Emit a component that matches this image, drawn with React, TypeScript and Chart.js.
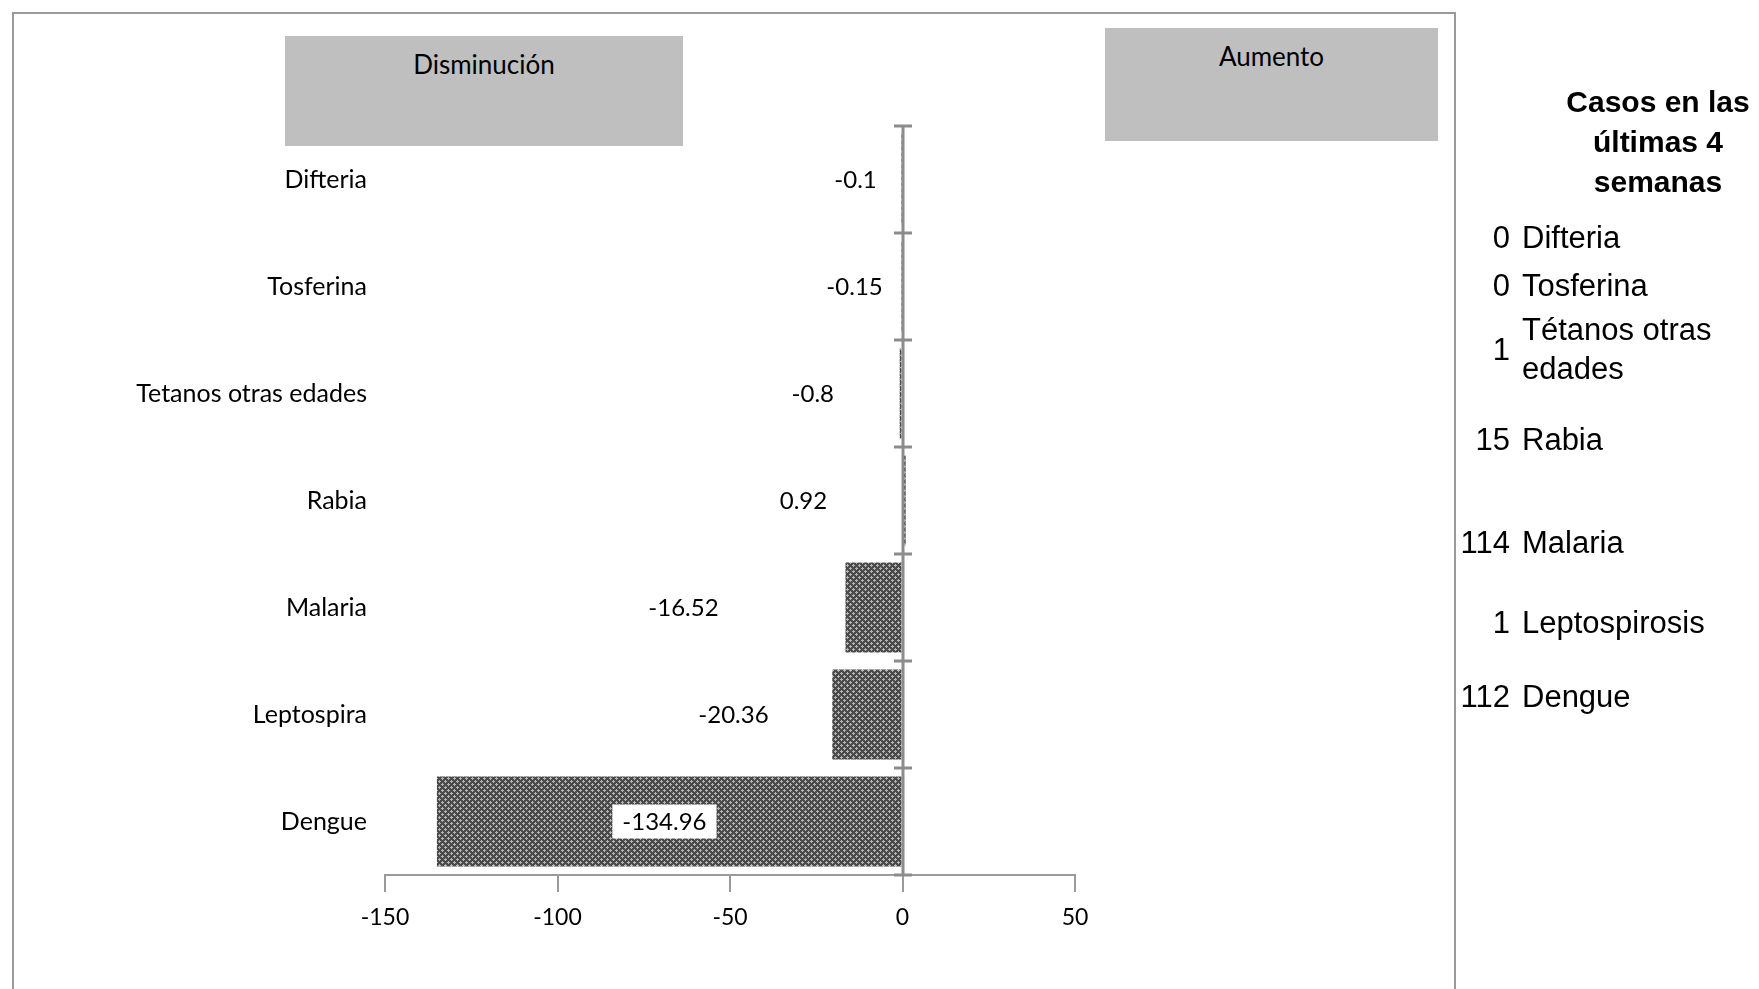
import React, { useEffect, useRef } from "react";
import { Chart, registerables } from "chart.js";

Chart.register(...registerables);

// ---- data ----
const categories = ["Difteria", "Tosferina", "Tetanos otras edades", "Rabia", "Malaria", "Leptospira", "Dengue"];
const changeValues = [-0.1, -0.15, -0.8, 0.92, -16.52, -20.36, -134.96];
const valueLabels = ["-0.1", "-0.15", "-0.8", "0.92", "-16.52", "-20.36", "-134.96"];
// where each value label sits, expressed on the value axis
const labelAt = [-13.6, -13.9, -26, -28.7, -63.5, -49, -69];
const labelBoxed = [false, false, false, false, false, false, true];
const xMin = -150;
const xMax = 50;
const xStep = 50;

const caseCounts = ["0", "0", "1", "15", "114", "1", "112"];
const caseNames = ["Difteria", "Tosferina", "Tétanos otras\nedades", "Rabia", "Malaria", "Leptospirosis", "Dengue"];
const casesTitle = ["Casos en las", "últimas 4", "semanas"];
const leftBoxText = "Disminución";
const rightBoxText = "Aumento";

// layout (not data)
const caseRowCenters = [237, 285, 349, 439, 542, 622, 696];

const FONT = "Lato, 'Open Sans', sans-serif";

function makePattern(): CanvasPattern | string {
  const c = document.createElement("canvas");
  c.width = 6;
  c.height = 6;
  const g = c.getContext("2d");
  if (!g) return "#666";
  g.fillStyle = "#4a4a4a";
  g.fillRect(0, 0, 6, 6);
  g.fillStyle = "#b4b4b4";
  const pts = [
    [1, 0], [0, 1], [1, 1], [2, 1], [1, 2],
    [4, 3], [3, 4], [4, 4], [5, 4], [4, 5],
  ];
  pts.forEach(([x, y]) => g.fillRect(x, y, 1, 1));
  const p = g.createPattern(c, "repeat");
  return p || "#666";
}

const framePlugin = {
  id: "frame",
  beforeDraw(chart: any) {
    const ctx = chart.ctx;
    ctx.save();
    ctx.strokeStyle = "#9a9a9a";
    ctx.lineWidth = 2;
    ctx.beginPath();
    ctx.moveTo(13, 1000);
    ctx.lineTo(13, 13);
    ctx.lineTo(1455, 13);
    ctx.lineTo(1455, 1000);
    ctx.stroke();
    ctx.restore();
  },
};

const zeroAxisPlugin = {
  id: "zeroAxis",
  afterDatasetsDraw(chart: any) {
    const ctx = chart.ctx;
    const xs = chart.scales.x;
    const { top, bottom } = chart.chartArea;
    const x0 = Math.round(xs.getPixelForValue(0));
    ctx.save();
    ctx.strokeStyle = "#8c8c8c";
    ctx.lineWidth = 3;
    ctx.beginPath();
    ctx.moveTo(x0, top);
    ctx.lineTo(x0, bottom);
    const n = categories.length;
    for (let i = 0; i <= n; i++) {
      const y = top + ((bottom - top) * i) / n;
      ctx.moveTo(x0 - 9, y);
      ctx.lineTo(x0 + 9, y);
    }
    ctx.stroke();

    // value labels
    const ys = chart.scales.y;
    ctx.font = `24px ${FONT}`;
    ctx.textAlign = "center";
    ctx.textBaseline = "middle";
    for (let i = 0; i < valueLabels.length; i++) {
      const lx = xs.getPixelForValue(labelAt[i]);
      const ly = ys.getPixelForValue(i);
      if (labelBoxed[i]) {
        const w = ctx.measureText(valueLabels[i]).width + 20;
        ctx.fillStyle = "#ffffff";
        ctx.fillRect(lx - w / 2, ly - 17, w, 34);
      }
      ctx.fillStyle = "#000000";
      ctx.fillText(valueLabels[i], lx, ly + 1);
    }
    ctx.restore();
  },
};

export default function App() {
  const ref = useRef<HTMLCanvasElement | null>(null);

  useEffect(() => {
    if (!ref.current) return;
    const pattern = makePattern();
    const chart = new Chart(ref.current, {
      type: "bar",
      data: {
        labels: categories,
        datasets: [
          {
            data: changeValues,
            backgroundColor: pattern as any,
            borderWidth: 0,
            barPercentage: 0.84,
            categoryPercentage: 1,
          },
        ],
      },
      options: {
        indexAxis: "y",
        animation: false,
        responsive: false,
        devicePixelRatio: 1,
        layout: { padding: { left: 0, top: 126, right: 684, bottom: 0 } },
        plugins: { legend: { display: false }, tooltip: { enabled: false } },
        scales: {
          x: {
            type: "linear",
            min: xMin,
            max: xMax,
            ticks: { stepSize: xStep, color: "#000", font: { family: FONT, size: 23 }, padding: 12 },
            grid: { drawOnChartArea: false, drawTicks: true, tickLength: 17, color: "#9a9a9a", lineWidth: 2 },
            border: { display: true, color: "#9a9a9a", width: 2 },
            afterFit: (s: any) => { s.height = 114; },
          },
          y: {
            type: "category",
            ticks: { color: "#000", font: { family: FONT, size: 25 }, padding: 18 },
            grid: { display: false, drawTicks: false },
            border: { display: false },
            afterFit: (s: any) => { s.width = 385; },
          },
        },
      },
      plugins: [framePlugin, zeroAxisPlugin],
    });
    return () => chart.destroy();
  }, []);

  const boxStyle: React.CSSProperties = {
    position: "absolute",
    background: "#bfbfbf",
    fontFamily: FONT,
    fontSize: 26,
    color: "#000",
    textAlign: "center",
  };

  return (
    <div style={{ position: "absolute", left: 0, top: 0, width: 1759, height: 989, background: "#fff", overflow: "hidden" }}>
      <canvas ref={ref} width={1759} height={989} style={{ position: "absolute", left: 0, top: 0, width: 1759, height: 989 }} />
      <div style={{ ...boxStyle, left: 285, top: 36, width: 398, height: 110 }}>
        <div style={{ position: "absolute", left: 0, right: 0, top: 12, lineHeight: "32px" }}>{leftBoxText}</div>
      </div>
      <div style={{ ...boxStyle, left: 1105, top: 28, width: 333, height: 113 }}>
        <div style={{ position: "absolute", left: 0, right: 0, top: 12, lineHeight: "32px" }}>{rightBoxText}</div>
      </div>
      <div
        style={{
          position: "absolute",
          left: 1553,
          width: 210,
          top: 82,
          fontFamily: "'Liberation Sans', Arial, sans-serif",
          fontWeight: "bold",
          fontSize: 30,
          lineHeight: "40px",
          textAlign: "center",
          color: "#000",
        }}
      >
        {casesTitle.map((t, i) => (
          <div key={i}>{t}</div>
        ))}
      </div>
      {caseCounts.map((c, i) => {
        const lines = caseNames[i].split("\n");
        const h = lines.length * 39;
        return (
          <div
            key={i}
            style={{
              position: "absolute",
              left: 1440,
              top: caseRowCenters[i] - h / 2,
              height: h,
              width: 319,
              fontFamily: "'Liberation Sans', Arial, sans-serif",
              fontSize: 31,
              lineHeight: "39px",
              color: "#000",
            }}
          >
            <div style={{ position: "absolute", right: 319 - 70, top: 0, height: h, display: "flex", alignItems: "center" }}>{c}</div>
            <div style={{ position: "absolute", left: 82, top: 0, whiteSpace: "nowrap" }}>
              {lines.map((l, j) => (
                <div key={j}>{l}</div>
              ))}
            </div>
          </div>
        );
      })}
    </div>
  );
}
